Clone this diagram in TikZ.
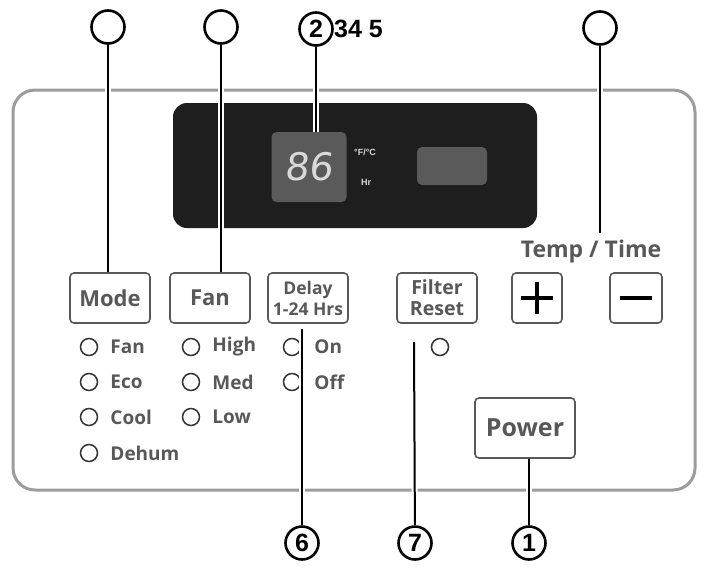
\documentclass[tikz,border=0pt]{standalone}
\usepackage{fontspec}
\setmainfont{Open Sans}
\newfontfamily\numfont{Liberation Sans}
\newfontfamily\lcdfont{DejaVu Sans}[FakeSlant=0.12]
\usetikzlibrary{positioning}
\definecolor{panelgray}{HTML}{9C9C9C}
\definecolor{labelgray}{HTML}{585858}
\definecolor{lcdgray}{HTML}{5A5A5A}
\definecolor{lcdblack}{HTML}{1E1E1E}

\begin{document}
\begin{tikzpicture}[x=1pt,y=-1pt]
  \tikzstyle{box}=[draw=labelgray,line width=1.6pt,rounded corners=4pt,align=center,text=labelgray,minimum height=50pt,inner sep=1pt]
  \tikzstyle{led}=[circle,draw=black!80,line width=1.5pt,minimum size=17pt,inner sep=0pt]
  \tikzstyle{ledtext}=[inner sep=0pt,anchor=west,text=labelgray,font=\bfseries\fontsize{19}{19}\selectfont]
  \tikzstyle{callout}=[circle,draw,line width=2.6pt,minimum size=33pt,inner sep=0pt,font=\numfont\bfseries\fontsize{25}{25}\selectfont]
  \tikzstyle{leader}=[line width=2pt,preaction={draw=white,line width=6pt}]
  \useasboundingbox[fill=white] (0,0) rectangle (707,568);
  % panel and display
  \draw[panelgray,line width=3pt,rounded corners=22pt] (13,90) rectangle (695,490);
  \fill[lcdblack,rounded corners=14pt] (173,103) rectangle (537,228);
  \node[fill=lcdgray,rounded corners=5pt,minimum width=75pt,minimum height=70pt,text=white!85!black,font=\lcdfont\fontsize{38}{38}\selectfont] (lcd) at (309,167) {86};
  \node[inner sep=0pt,text=white!85!black,font=\numfont\bfseries\fontsize{9}{9}\selectfont] (units) at (365,152) {°F/°C};
  \node[inner sep=0pt,text=white!85!black,font=\numfont\bfseries\fontsize{9}{9}\selectfont] (hours) at (366,182) {Hr};
  \node[fill=lcdgray,rounded corners=5pt,minimum width=70pt,minimum height=38pt] (clock) at (452,166) {};
  % buttons
  \node[box,minimum width=80pt,font=\bfseries\fontsize{22}{22}\selectfont] (mode) at (110,298) {Mode};
  \node[box,minimum width=80pt,font=\bfseries\fontsize{22}{22}\selectfont] (fan) at (210,298) {Fan};
  \node[box,minimum width=80pt,font=\bfseries\fontsize{17.5}{21}\selectfont] (delay) at (308,298) {Delay\\1-24 Hrs};
  \node[box,minimum width=80pt,font=\bfseries\fontsize{19.5}{21}\selectfont] (filter) at (437,298) {Filter\\Reset};
  \node[box,minimum width=50pt] (plus) at (537,298) {};
  \node[box,minimum width=52pt] (minus) at (636,298) {};
  \node[box,minimum width=100pt,minimum height=60pt,font=\bfseries\fontsize{25}{25}\selectfont] (power) at (525,428) {Power};
  \draw[line width=4.5pt] ([xshift=-16pt]plus.center) -- ([xshift=16pt]plus.center);
  \draw[line width=4.5pt] ([yshift=-16pt]plus.center) -- ([yshift=16pt]plus.center);
  \draw[line width=4.5pt] ([xshift=-16pt]minus.center) -- ([xshift=16pt]minus.center);
  \node[text=labelgray,font=\bfseries\fontsize{23}{23}\selectfont] (temptime) at (591,252) {Temp / Time};
  % indicator lights
  \foreach \y/\t [count=\i] in {347/Fan,382/Eco,417/Cool,453/Dehum} {
    \node[led] (modeled\i) at (89,\y) {};
    \node[ledtext,right=12pt of modeled\i] {\t};
  }
  \foreach \y/\t [count=\i] in {347/High,382/Med,417/Low} {
    \node[led] (fanled\i) at (191,\y) {};
    \node[ledtext,right=12pt of fanled\i] {\t};
  }
  \foreach \y/\t [count=\i] in {347/On,382/Off} {
    \node[led] (delayled\i) at (292,\y) {};
    \node[ledtext,right=13pt of delayled\i] {\t};
  }
  \node[led] (filterled) at (440,347) {};
  % callouts
  \node[callout] (cmode) at (108,27) {};
  \node[callout] (cfan) at (221,27) {};
  \node[callout] (c2) at (316,29) {2};
  \node[font=\numfont\bfseries\fontsize{25}{25}\selectfont,anchor=west,inner sep=0pt] (others) at (334,29) {34 5};
  \node[callout] (ctemp) at (600,28) {};
  \node[callout] (c6) at (302,543) {6};
  \node[callout] (c7) at (415,543) {7};
  \node[callout] (c1) at (529,543) {1};
  \coordinate (tempend) at (600,233);
  \coordinate (delayend) at (302,329);
  \coordinate (filterend) at (414,342);
  \draw[leader] (cmode) -- (cmode |- mode.north);
  \draw[leader] (cfan) -- (cfan |- fan.north);
  \draw[leader] (c2) -- (c2 |- lcd.north);
  \draw[leader] (ctemp) -- (tempend);
  \draw[leader] (delayend) -- (c6);
  \draw[leader] (filterend) -- (c7);
  \draw[leader] (power.south -| c1) -- (c1);
\end{tikzpicture}
\end{document}
